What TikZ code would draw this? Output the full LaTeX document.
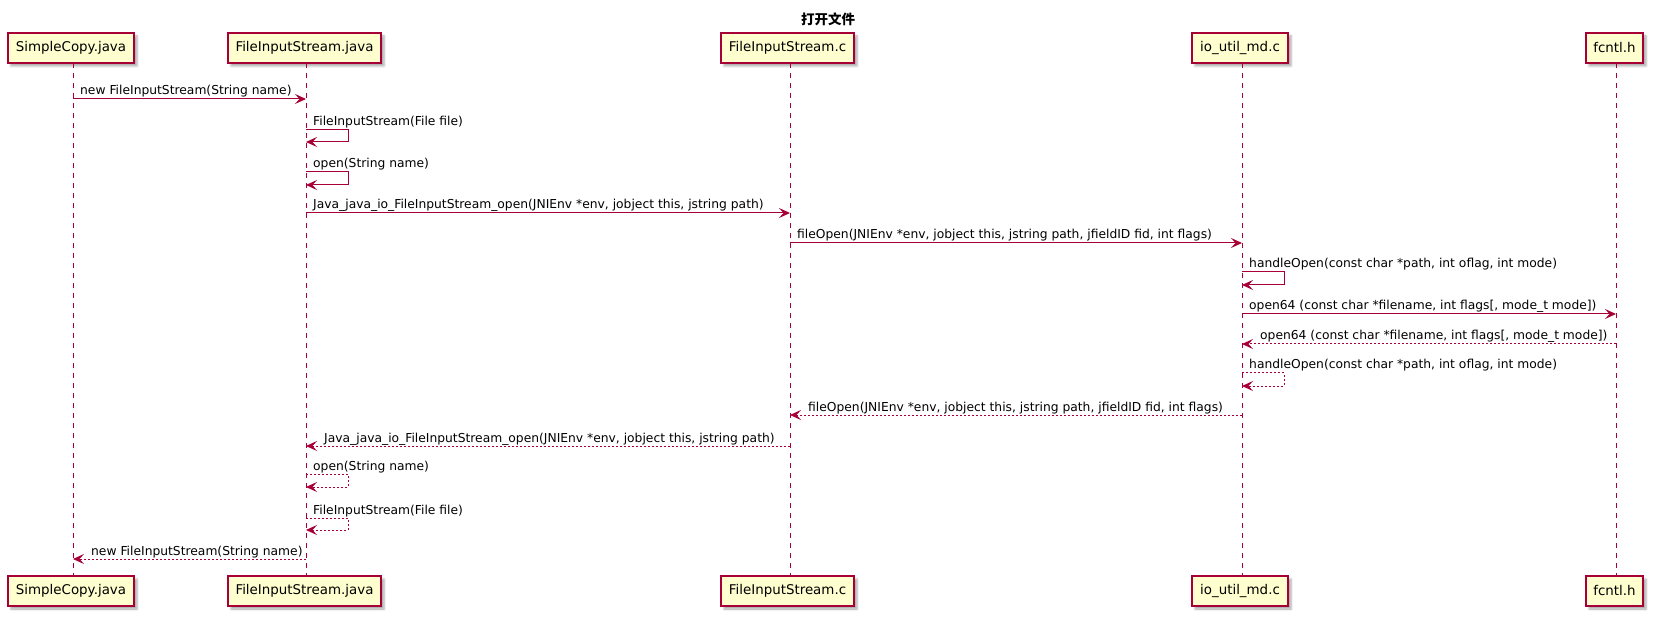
\documentclass[tikz,border=0pt]{standalone}
\usepackage{fontspec}
\setmainfont{DejaVu Sans}
\newfontfamily\cjk{Noto Sans CJK SC}
\usetikzlibrary{arrows.meta,shadows.blur}
\definecolor{umlred}{HTML}{A80036}
\definecolor{umlfill}{HTML}{FEFECE}
\tikzset{
  actorbox/.style={draw=umlred, fill=umlfill, line width=1.2pt, minimum height=30pt,
    inner sep=0pt, font=\fontsize{13.4}{15}\selectfont,
    blur shadow={shadow xshift=3pt, shadow yshift=-3pt, shadow blur steps=4, shadow opacity=35}},
  lifeline/.style={draw=umlred, line width=0.9pt, dash pattern=on 5pt off 5pt},
  msg/.style={draw=umlred, line width=1pt, -{Stealth[length=11pt,width=10pt,inset=4.5pt]}},
  ret/.style={msg, dash pattern=on 2pt off 2pt},
  lbl/.style={anchor=base west, inner sep=0pt, font=\fontsize{12.3}{14}\selectfont},
}
\begin{document}
\begin{tikzpicture}[x=1pt,y=-1pt]
\useasboundingbox (0,0) rectangle (1654,617);
\node[font=\cjk\bfseries\fontsize{13.5}{15}\selectfont] (title) at (828,19) {打开文件};
% top participants
\node[actorbox, minimum width=126pt] (t1) at (71,48) {SimpleCopy.java};
\node[actorbox, minimum width=153pt] (t2) at (304.5,48) {FileInputStream.java};
\node[actorbox, minimum width=133pt] (t3) at (787.5,48) {FileInputStream.c};
\node[actorbox, minimum width=96pt] (t4) at (1240,48) {io\_util\_md.c};
\node[actorbox, minimum width=57pt] (t5) at (1614.5,48) {fcntl.h};
% bottom participants
\node[actorbox, minimum width=126pt] (b1) at (71,591) {SimpleCopy.java};
\node[actorbox, minimum width=153pt] (b2) at (304.5,591) {FileInputStream.java};
\node[actorbox, minimum width=133pt] (b3) at (787.5,591) {FileInputStream.c};
\node[actorbox, minimum width=96pt] (b4) at (1240,591) {io\_util\_md.c};
\node[actorbox, minimum width=57pt] (b5) at (1614.5,591) {fcntl.h};
% lifelines
\foreach \i/\x in {1/73,2/306,3/790,4/1242,5/1616}{
  \coordinate (lt\i) at (\x,63);
  \coordinate (lb\i) at (\x,576);
  \draw[lifeline] (lt\i) -- (lb\i);
}
% 1
\coordinate (m1a) at (73,99); \coordinate (m1b) at (306,99);
\draw[msg] (m1a) -- (m1b);
\node[lbl] (l1) at (80,95) {new FileInputStream(String name)};
% 2 self
\coordinate (m2a) at (306,130); \coordinate (m2b) at (306,142);
\draw[msg] (m2a) -- ++(42,0) |- (m2b);
\node[lbl] (l2) at (313,126) {FileInputStream(File file)};
% 3 self
\coordinate (m3a) at (306,172); \coordinate (m3b) at (306,185);
\draw[msg] (m3a) -- ++(42,0) |- (m3b);
\node[lbl] (l3) at (313,168) {open(String name)};
% 4
\coordinate (m4a) at (306,213); \coordinate (m4b) at (790,213);
\draw[msg] (m4a) -- (m4b);
\node[lbl] (l4) at (313,209) {Java\_java\_io\_FileInputStream\_open(JNIEnv *env, jobject this, jstring path)};
% 5
\coordinate (m5a) at (790,243); \coordinate (m5b) at (1242,243);
\draw[msg] (m5a) -- (m5b);
\node[lbl] (l5) at (797,239) {fileOpen(JNIEnv *env, jobject this, jstring path, jfieldID fid, int flags)};
% 6 self
\coordinate (m6a) at (1242,272); \coordinate (m6b) at (1242,285);
\draw[msg] (m6a) -- ++(42,0) |- (m6b);
\node[lbl] (l6) at (1249,268) {handleOpen(const char *path, int oflag, int mode)};
% 7
\coordinate (m7a) at (1242,314); \coordinate (m7b) at (1616,314);
\draw[msg] (m7a) -- (m7b);
\node[lbl] (l7) at (1249,310) {open64 (const char *filename, int flags[, mode\_t mode])};
% 8 return
\coordinate (m8a) at (1616,344); \coordinate (m8b) at (1242,344);
\draw[ret] (m8a) -- (m8b);
\node[lbl] (l8) at (1260,340) {open64 (const char *filename, int flags[, mode\_t mode])};
% 9 self return
\coordinate (m9a) at (1242,373); \coordinate (m9b) at (1242,386);
\draw[ret] (m9a) -- ++(42,0) |- (m9b);
\node[lbl] (l9) at (1249,369) {handleOpen(const char *path, int oflag, int mode)};
% 10 return
\coordinate (m10a) at (1242,415); \coordinate (m10b) at (790,415);
\draw[ret] (m10a) -- (m10b);
\node[lbl] (l10) at (808,411) {fileOpen(JNIEnv *env, jobject this, jstring path, jfieldID fid, int flags)};
% 11 return
\coordinate (m11a) at (790,446); \coordinate (m11b) at (306,446);
\draw[ret] (m11a) -- (m11b);
\node[lbl] (l11) at (324,442) {Java\_java\_io\_FileInputStream\_open(JNIEnv *env, jobject this, jstring path)};
% 12 self return
\coordinate (m12a) at (306,474); \coordinate (m12b) at (306,487);
\draw[ret] (m12a) -- ++(42,0) |- (m12b);
\node[lbl] (l12) at (313,470) {open(String name)};
% 13 self return
\coordinate (m13a) at (306,518); \coordinate (m13b) at (306,530);
\draw[ret] (m13a) -- ++(42,0) |- (m13b);
\node[lbl] (l13) at (313,514) {FileInputStream(File file)};
% 14 return
\coordinate (m14a) at (306,559); \coordinate (m14b) at (73,559);
\draw[ret] (m14a) -- (m14b);
\node[lbl] (l14) at (91,555) {new FileInputStream(String name)};
\end{tikzpicture}
\end{document}
